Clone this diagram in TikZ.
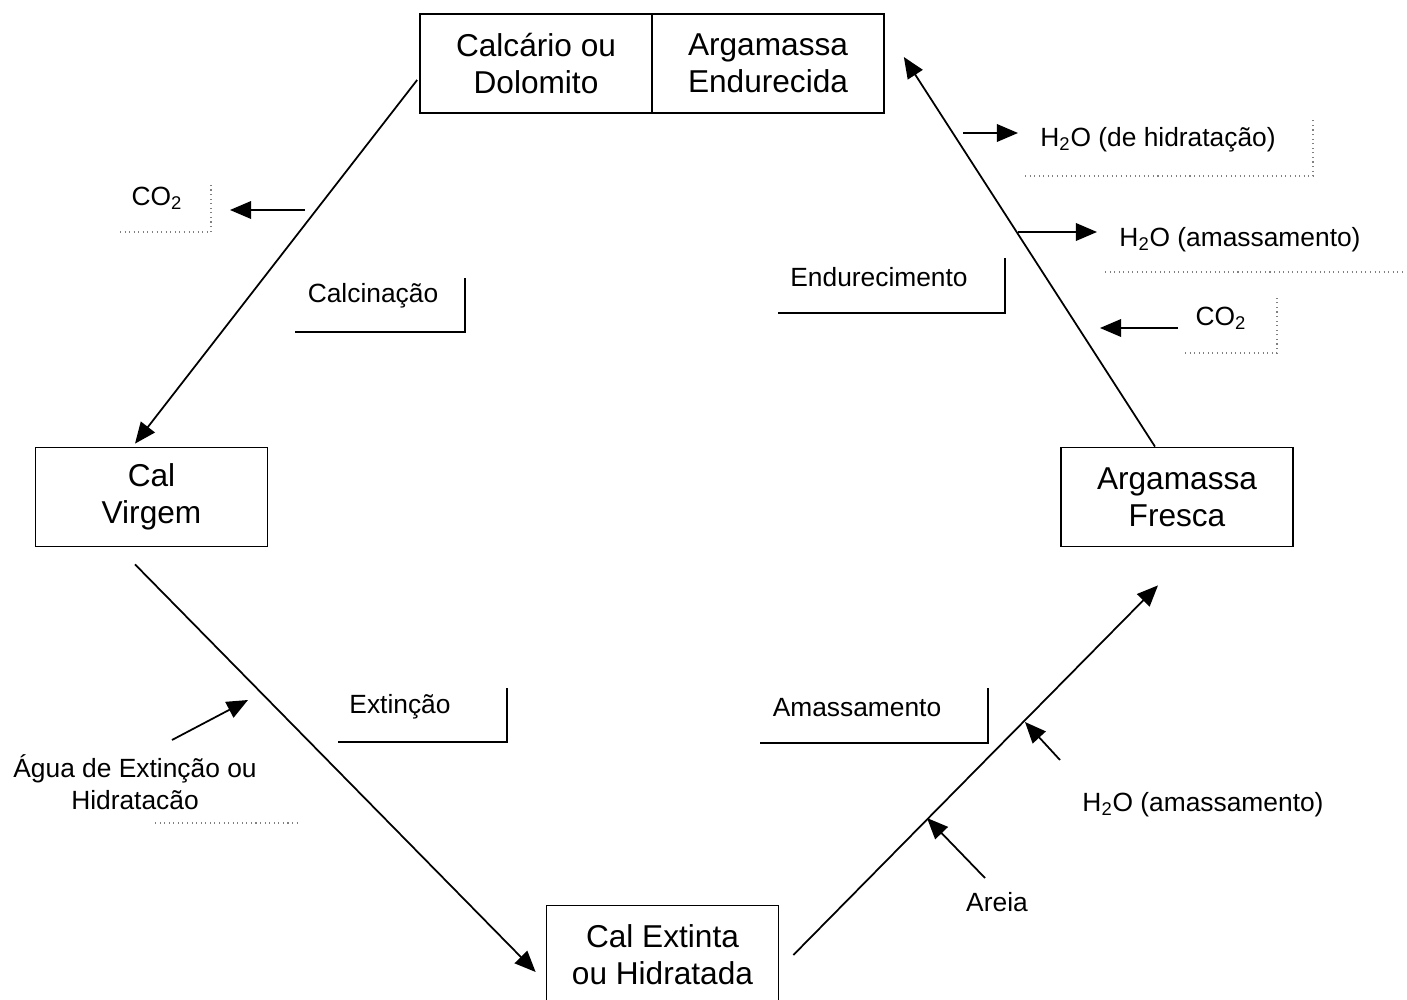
\documentclass[tikz,border=0pt]{standalone}
\usepackage{fontspec}
\setmainfont{Liberation Sans}
\usetikzlibrary{arrows.meta}
\begin{document}
\begin{tikzpicture}[x=0.02cm,y=-0.02cm,
  caixa/.style={draw,line width=1pt,minimum width=4.64cm,minimum height=1.98cm,
    inner sep=0pt,align=center,font=\fontsize{18}{21}\selectfont},
  etapa/.style={font=\fontsize{15}{18}\selectfont,align=center},
  seta/.style={line width=1pt,-{Triangle[length=12pt,width=10pt]}},
  moldura/.style={line width=1.3pt},
  resto/.style={line width=0.6pt,dotted,gray}]
\useasboundingbox (0,0) rectangle (1407,1000);
% caixas
\node[caixa] (calcario) at (536,63.5) {Calcário ou\\Dolomito};
\node[caixa] (endurecida) at (768,63.5) {Argamassa\\Endurecida};
\node[caixa] (virgem) at (151.5,497) {Cal\\Virgem};
\node[caixa] (fresca) at (1177,497) {Argamassa\\Fresca};
\begin{scope}
\clip (0,0) rectangle (1407,1000);
\node[caixa] (extinta) at (662.5,955) {Cal Extinta\\ou Hidratada};
\end{scope}
% ciclo
\path[draw,seta] ([shift={(-2,16.5)}]calcario.west) -- ([shift={(-16.5,-3)}]virgem.north);
\path[draw,seta] ([shift={(-16.5,17)}]virgem.south) -- ([shift={(-10,17)}]extinta.west);
\path[draw,seta] ([shift={(14,0)}]extinta.east) -- ([shift={(-19,38)}]fresca.south);
\path[draw,seta] ([shift={(-22,0)}]fresca.north) -- ([shift={(19,-6.5)}]endurecida.east);
% etapas
\node[etapa] (calcinacao) at (373,296) {Calcinação};
\node[etapa] (endurecimento) at (879,277) {Endurecimento};
\node[etapa] (extincao) at (400,707) {Extinção};
\node[etapa] (amassamento) at (857,708) {Amassamento};
\draw[moldura] (295,332) -| (465,278);
\draw[moldura] (778,313) -| (1005,258);
\draw[moldura] (338,742) -| (507,688);
\draw[moldura] (760,743) -| (988,688);
% entradas e saidas
\node[etapa] (co2a) at (157,198) {CO\textsubscript{2}};
\node[etapa] (h2oa) at (1158,140) {H\textsubscript{2}O (de hidratação)};
\node[etapa] (h2ob) at (1240,240) {H\textsubscript{2}O (amassamento)};
\node[etapa] (co2b) at (1221,318) {CO\textsubscript{2}};
\node[etapa] (agua) at (135,782) {Água de Extinção ou\\Hidratacão};
\node[etapa] (h2oc) at (1203,805) {H\textsubscript{2}O (amassamento)};
\node[etapa] (areia) at (997,902) {Areia};
\coordinate (co2a1) at (305,210); \coordinate (co2a2) at (230,210);
\coordinate (h2oa1) at (963,133); \coordinate (h2oa2) at (1018,133);
\coordinate (h2ob1) at (1018,232); \coordinate (h2ob2) at (1097,232);
\coordinate (co2b1) at (1178,328); \coordinate (co2b2) at (1100,328);
\coordinate (agua1) at (172,740); \coordinate (agua2) at (248,700);
\coordinate (h2oc1) at (1060,760); \coordinate (h2oc2) at (1025,722);
\coordinate (areia1) at (985,878); \coordinate (areia2) at (927,818);
\path[draw,seta] (co2a1) -- (co2a2);
\path[draw,seta] (h2oa1) -- (h2oa2);
\path[draw,seta] (h2ob1) -- (h2ob2);
\path[draw,seta] (co2b1) -- (co2b2);
\path[draw,seta] (agua1) -- (agua2);
\path[draw,seta] (h2oc1) -- (h2oc2);
\path[draw,seta] (areia1) -- (areia2);
% restos de molduras
\draw[resto] (120,232) -| (211,185);
\draw[resto] (1025,176) -| (1313,120);
\draw[resto] (1105,272) -- (1405,272);
\draw[resto] (1185,353) -| (1277,296);
\draw[resto] (155,823) -- (300,823);
\end{tikzpicture}
\end{document}
